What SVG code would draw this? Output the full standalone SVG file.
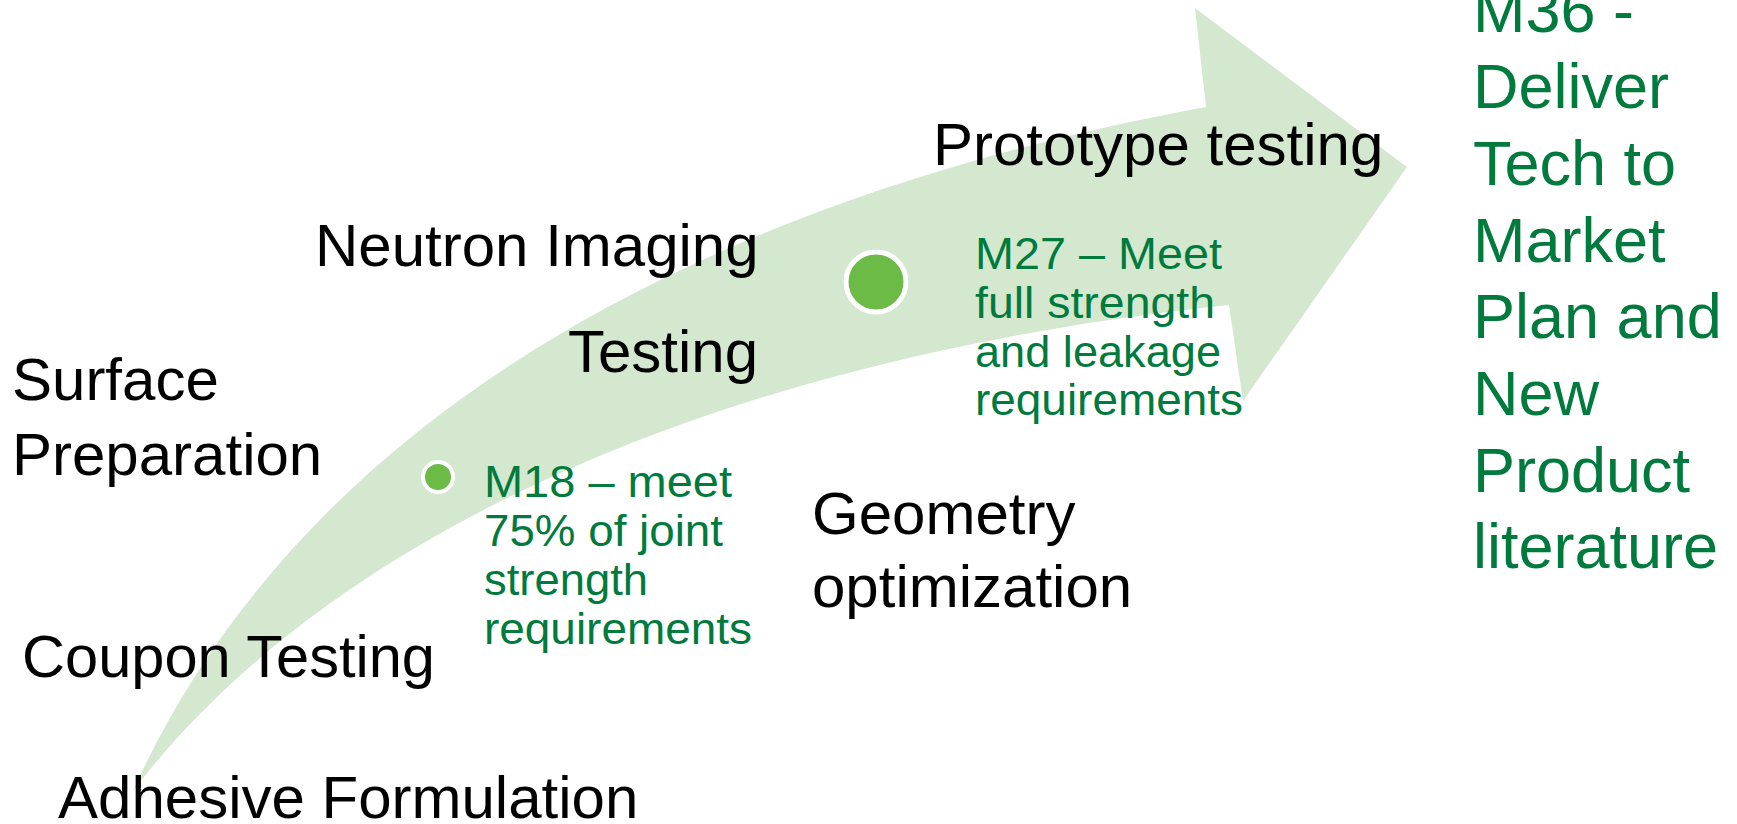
<svg xmlns="http://www.w3.org/2000/svg" width="1737" height="824" viewBox="0 0 1737 824">
<style>
.blk{font-family:"Liberation Sans",Arial,sans-serif;font-size:60px;fill:#000}
.grn{font-family:"Liberation Sans",Arial,sans-serif;font-size:45px;fill:#007A3D}
.big{font-family:"Liberation Sans",Arial,sans-serif;font-size:63px;fill:#007A3D}
.dot{fill:#6CBB46;stroke:#fff}
</style>
<rect width="1737" height="824" fill="#fff"/>
<g id="arrow">
<path d="M133,791 C300,420 700,200 1206,107 L1195,8 L1407,167 L1243,401 L1229,305 C700,360 320,545 133,791 Z" fill="#D4E8CF"/>
</g>
<g id="m18">
<circle class="dot" cx="438" cy="477" r="15" stroke-width="4"/>
<text class="grn" x="484" y="497" textLength="248" lengthAdjust="spacingAndGlyphs">M18 – meet</text>
<text class="grn" x="484" y="546" textLength="239" lengthAdjust="spacingAndGlyphs">75% of joint</text>
<text class="grn" x="484" y="595" textLength="164" lengthAdjust="spacingAndGlyphs">strength</text>
<text class="grn" x="484" y="644" textLength="268" lengthAdjust="spacingAndGlyphs">requirements</text>
</g>
<g id="m27">
<circle class="dot" cx="876" cy="282" r="30" stroke-width="5"/>
<text class="grn" x="975" y="269" textLength="247" lengthAdjust="spacingAndGlyphs">M27 – Meet</text>
<text class="grn" x="975" y="318" textLength="240" lengthAdjust="spacingAndGlyphs">full strength</text>
<text class="grn" x="975" y="367" textLength="246" lengthAdjust="spacingAndGlyphs">and leakage</text>
<text class="grn" x="975" y="415" textLength="268" lengthAdjust="spacingAndGlyphs">requirements</text>
</g>
<g id="m36">
<text class="big" x="1473" y="32">M36 -</text>
<text class="big" x="1473" y="108">Deliver</text>
<text class="big" x="1473" y="185">Tech to</text>
<text class="big" x="1473" y="262">Market</text>
<text class="big" x="1473" y="338">Plan and</text>
<text class="big" x="1473" y="415">New</text>
<text class="big" x="1473" y="492">Product</text>
<text class="big" x="1473" y="568">literature</text>
</g>
<g id="surface"><text class="blk" x="12" y="400">Surface</text><text class="blk" x="12" y="475">Preparation</text></g>
<g id="neutron"><text class="blk" x="315" y="266">Neutron Imaging</text></g>
<g id="testing"><text class="blk" x="568" y="372">Testing</text></g>
<g id="prototype"><text class="blk" x="933" y="165">Prototype testing</text></g>
<g id="geometry"><text class="blk" x="812" y="534">Geometry</text><text class="blk" x="812" y="607">optimization</text></g>
<g id="coupon"><text class="blk" x="22" y="677" textLength="413" lengthAdjust="spacingAndGlyphs">Coupon Testing</text></g>
<g id="adhesive"><text class="blk" x="58" y="818">Adhesive Formulation</text></g>
</svg>
